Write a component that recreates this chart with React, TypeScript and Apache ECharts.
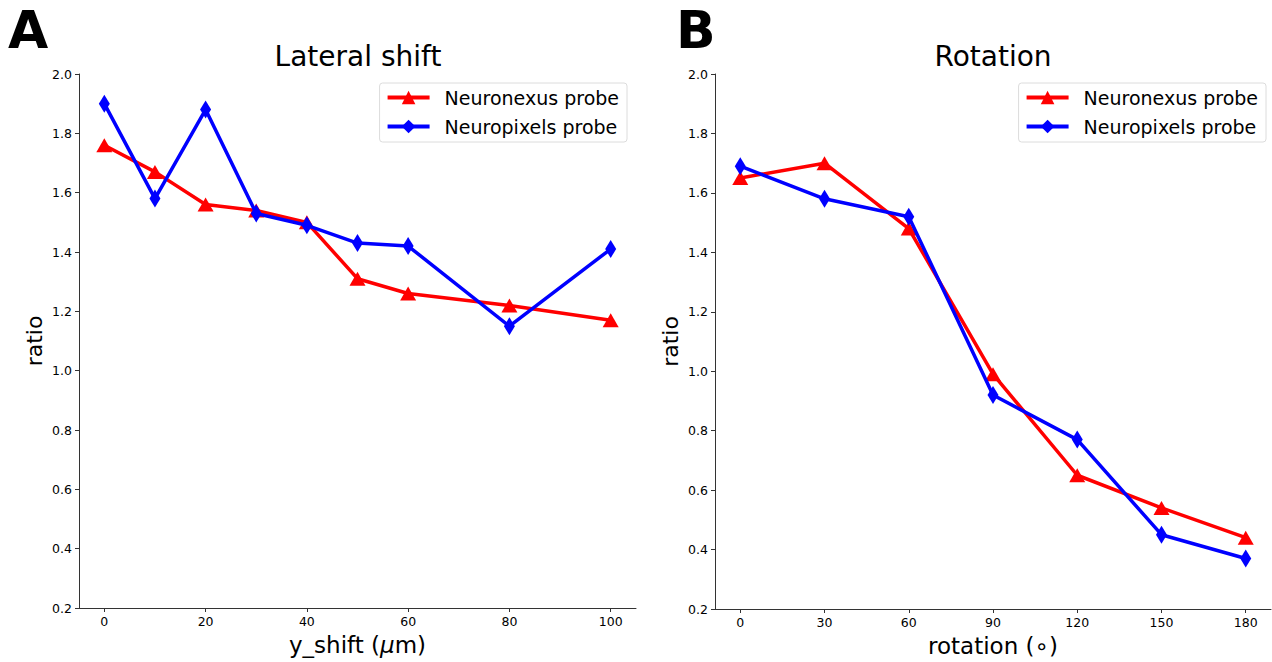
import React, { useEffect, useRef } from "react";
import * as echarts from "echarts";

const shiftX = [0, 10, 20, 30, 40, 50, 60, 80, 100];
const shiftNeuronexus = [1.76, 1.67, 1.56, 1.54, 1.5, 1.31, 1.26, 1.22, 1.17];
const shiftNeuropixels = [1.9, 1.58, 1.88, 1.53, 1.49, 1.43, 1.42, 1.15, 1.41];

const rotX = [0, 30, 60, 90, 120, 150, 180];
const rotNeuronexus = [1.65, 1.7, 1.48, 0.99, 0.65, 0.54, 0.44];
const rotNeuropixels = [1.69, 1.58, 1.52, 0.92, 0.77, 0.45, 0.37];

const shiftTicks = [0, 20, 40, 60, 80, 100];
const rotTicks = [0, 30, 60, 90, 120, 150, 180];
const yTicks = [0.2, 0.4, 0.6, 0.8, 1.0, 1.2, 1.4, 1.6, 1.8, 2.0];

const NX = "Neuronexus probe";
const NP = "Neuropixels probe";
const FONT = "DejaVu Sans";

export default function App() {
  const ref = useRef<HTMLDivElement>(null);
  useEffect(() => {
    const chart = echarts.init(ref.current!, null, { renderer: "svg" });
    const pair = (xs: number[], ys: number[]) => xs.map((x, i) => [x, ys[i]]);
    const axisLine = { show: true, onZero: false, lineStyle: { color: "#333", width: 1 } };
    const tickLabel = { color: "#000", fontSize: 12.5, fontFamily: FONT };
    const mkX = (gi: number, min: number, max: number, ticks: number[], name: any) => ({
      type: "value",
      gridIndex: gi,
      min,
      max,
      axisLine,
      axisTick: { show: true, length: 4, customValues: ticks, lineStyle: { color: "#333" } },
      axisLabel: { ...tickLabel, margin: 7, customValues: ticks },
      splitLine: { show: false },
      name: name.text,
      nameLocation: "middle",
      nameGap: 25,
      nameTextStyle: { color: "#000", fontSize: 23, fontFamily: FONT, rich: name.rich },
    });
    const mkY = (gi: number) => ({
      type: "value",
      gridIndex: gi,
      min: 0.2,
      max: 2.0,
      axisLine,
      axisTick: { show: true, length: 4, customValues: yTicks, lineStyle: { color: "#333" } },
      axisLabel: { ...tickLabel, margin: 7, customValues: yTicks, formatter: (v: number) => v.toFixed(1) },
      splitLine: { show: false },
      name: "ratio",
      nameLocation: "middle",
      nameGap: 34,
      nameTextStyle: { color: "#000", fontSize: 22, fontFamily: FONT },
    });
    const line = (name: string, gi: number, data: number[][], color: string, tri: boolean) => ({
      type: "line",
      name,
      xAxisIndex: gi,
      yAxisIndex: gi,
      data,
      symbol: tri ? "triangle" : "diamond",
      symbolSize: tri ? [16, 14] : [11, 18],
      showAllSymbol: true,
      lineStyle: { color, width: 3.5 },
      itemStyle: { color },
      clip: false,
      z: tri ? 2 : 3,
    });
    const legend = (right: number) => ({
      right,
      top: 83,
      orient: "vertical",
      data: [NX, NP],
      itemWidth: 42,
      itemHeight: 17,
      itemGap: 10,
      padding: [5, 8, 6, 6],
      borderColor: "#dcdcdc",
      borderWidth: 1,
      borderRadius: 3,
      backgroundColor: "rgba(255,255,255,0.8)",
      lineStyle: { width: 4 },
      textStyle: { color: "#000", fontSize: 19, fontFamily: FONT, padding: [0, 0, 0, 10] },
      selectedMode: false,
    });
    chart.setOption({
      animation: false,
      backgroundColor: "#fff",
      grid: [
        { left: 79, right: 636, top: 74, bottom: 54 },
        { left: 715, right: 1, top: 74, bottom: 51 },
      ],
      xAxis: [
        mkX(0, -5, 105, shiftTicks, {
          text: "{a|y_shift (}{i|μ}{a|m)}",
          rich: {
            a: { fontSize: 23, fontFamily: FONT, color: "#000" },
            i: { fontSize: 23, fontFamily: FONT, color: "#000", fontStyle: "italic" },
          },
        }),
        mkX(1, -9, 189, rotTicks, { text: "rotation (∘)" }),
      ],
      yAxis: [mkY(0), mkY(1)],
      legend: [legend(1272 - 627), legend(1272 - 1266)],
      series: [
        line(NX, 0, pair(shiftX, shiftNeuronexus), "#ff0000", true),
        line(NP, 0, pair(shiftX, shiftNeuropixels), "#0000ff", false),
        line(NX, 1, pair(rotX, rotNeuronexus), "#ff0000", true),
        line(NP, 1, pair(rotX, rotNeuropixels), "#0000ff", false),
      ],
      graphic: [
        { type: "text", left: 8, top: 4, style: { text: "A", fontSize: 52, fontWeight: "bold", fontFamily: FONT, fill: "#000" } },
        { type: "text", left: 676, top: 4, style: { text: "B", fontSize: 52, fontWeight: "bold", fontFamily: FONT, fill: "#000" } },
        { type: "text", x: 358, y: 56, style: { text: "Lateral shift", fontSize: 28, fontFamily: FONT, fill: "#000", align: "center", verticalAlign: "middle" } },
        { type: "text", x: 993, y: 56, style: { text: "Rotation", fontSize: 28, fontFamily: FONT, fill: "#000", align: "center", verticalAlign: "middle" } },
      ],
    });
    return () => chart.dispose();
  }, []);
  return <div ref={ref} style={{ position: "absolute", left: 0, top: 0, width: 1272, height: 662 }} />;
}
